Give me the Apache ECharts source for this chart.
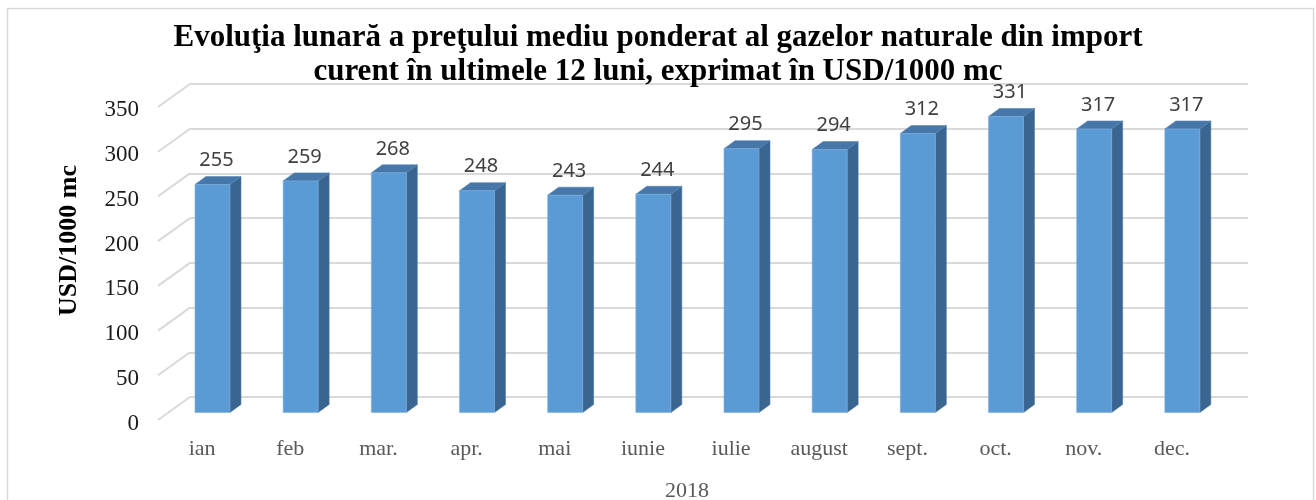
<!DOCTYPE html>
<html>
<head>
    <meta charset="UTF-8">
    <title>Evoluția lunară a prețului mediu ponderat</title>
    <style>
        body, html {
            margin: 0;
            width: 100%;
            height: 100%;
            background: #fff;
        }
        #container {
            width: 1316px;
            height: 500px;
        }
    </style>
</head>
<body>
<div id="container"></div>

<script src="https://cdn.jsdelivr.net/npm/echarts@6/dist/echarts.min.js"></script>
<script>
    // date
    var months = ['ian', 'feb', 'mar.', 'apr.', 'mai', 'iunie', 'iulie', 'august', 'sept.', 'oct.', 'nov.', 'dec.'];
    var prices = [255, 259, 268, 248, 243, 244, 295, 294, 312, 331, 317, 317];
    var yTicks = [0, 50, 100, 150, 200, 250, 300, 350];

    // adancimea 3D (perete lateral)
    var WALL_DX = -32, WALL_DY = 23;
    var BAR_DX = -21.6, BAR_DY = 15.5;   // fata barei fata de peretele din spate
    var BAR_W = 35, DEPTH_X = 11, DEPTH_Y = -8;

    var serif = '"Liberation Serif", "Times New Roman", serif';

    function buildChart() {
        var chart = echarts.init(document.getElementById('container'));

        var option = {
            animation: false,
            title: {
                text: 'Evoluţia lunară a preţului mediu ponderat al gazelor naturale din import\ncurent în ultimele 12 luni, exprimat în USD/1000 mc',
                left: 'center',
                top: 16,
                textStyle: {
                    fontFamily: serif,
                    fontSize: 31,
                    fontWeight: 'bold',
                    color: '#000',
                    lineHeight: 34
                }
            },
            graphic: [{
                type: 'rect',
                shape: {x: 7.5, y: 8.5, width: 1306, height: 500},
                style: {fill: 'none', stroke: '#d9d9d9', lineWidth: 1.5},
                silent: true
            }],
            grid: [
                // peretele din spate
                {left: 190, right: 68, top: 84, bottom: 103, outerBoundsMode: 'none', containLabel: false},
                // marginea din fata (etichete)
                {left: 158, right: 100, top: 110, bottom: 76, outerBoundsMode: 'none', containLabel: false}
            ],
            xAxis: [{
                gridIndex: 0,
                type: 'category',
                data: months,
                show: false
            }, {
                gridIndex: 1,
                type: 'category',
                data: months,
                axisLine: {show: false},
                axisTick: {show: false},
                axisLabel: {
                    margin: 14,
                    fontFamily: serif,
                    fontSize: 22,
                    color: '#595959'
                },
                name: '2018',
                nameLocation: 'middle',
                nameGap: 56,
                nameTextStyle: {
                    fontFamily: serif,
                    fontSize: 22,
                    color: '#595959'
                }
            }],
            yAxis: [{
                gridIndex: 0,
                type: 'value',
                min: 0,
                max: 350,
                interval: 50,
                axisLabel: {show: false},
                axisLine: {show: false},
                axisTick: {show: false},
                splitLine: {lineStyle: {color: '#d9d9d9', width: 2}},
                name: 'USD/1000 mc',
                nameLocation: 'middle',
                nameGap: 108,
                nameTextStyle: {
                    fontFamily: serif,
                    fontSize: 26,
                    fontWeight: 'bold',
                    color: '#000'
                }
            }, {
                gridIndex: 1,
                type: 'value',
                min: 0,
                max: 350,
                interval: 50,
                axisLine: {show: false},
                axisTick: {show: false},
                splitLine: {show: false},
                axisLabel: {
                    margin: 19,
                    fontFamily: serif,
                    fontSize: 23,
                    color: '#1a1a1a'
                }
            }],
            series: [{
                // liniile oblice ale peretelui lateral
                type: 'custom',
                xAxisIndex: 0,
                yAxisIndex: 0,
                silent: true,
                data: yTicks.map(function (v) { return [0, v]; }),
                renderItem: function (params, api) {
                    var y = api.coord([0, api.value(1)])[1];
                    var x = params.coordSys.x;
                    return {
                        type: 'line',
                        shape: {x1: x, y1: y, x2: x + WALL_DX, y2: y + WALL_DY},
                        style: {stroke: '#d9d9d9', lineWidth: 2}
                    };
                }
            }, {
                type: 'custom',
                xAxisIndex: 0,
                yAxisIndex: 0,
                data: prices.map(function (v, i) { return [i, v]; }),
                renderItem: function (params, api) {
                    var top = api.coord([api.value(0), api.value(1)]);
                    var base = api.coord([api.value(0), 0]);
                    var x = top[0] + BAR_DX - BAR_W / 2;
                    var yt = top[1] + BAR_DY;
                    var yb = base[1] + BAR_DY;
                    var xr = x + BAR_W;
                    return {
                        type: 'group',
                        children: [{
                            type: 'polygon',
                            shape: {points: [[xr, yt], [xr + DEPTH_X, yt + DEPTH_Y], [xr + DEPTH_X, yb + DEPTH_Y], [xr, yb]]},
                            style: {fill: '#3a6590', stroke: '#4a77a3', lineWidth: 0.6}
                        }, {
                            type: 'polygon',
                            shape: {points: [[x, yt], [x + DEPTH_X, yt + DEPTH_Y], [xr + DEPTH_X, yt + DEPTH_Y], [xr, yt]]},
                            style: {fill: '#4677a8', stroke: '#5585b5', lineWidth: 0.6}
                        }, {
                            type: 'rect',
                            shape: {x: x, y: yt, width: BAR_W, height: yb - yt},
                            style: {fill: '#5b9bd5', stroke: '#7fb0df', lineWidth: 0.6}
                        }, {
                            type: 'text',
                            style: {
                                x: x + BAR_W / 2 + 4,
                                y: yt - 24,
                                text: String(api.value(1)),
                                align: 'center',
                                verticalAlign: 'middle',
                                fontFamily: '"Noto Sans", sans-serif',
                                fontSize: 20,
                                fill: '#404040'
                            }
                        }]
                    };
                }
            }]
        };

        chart.setOption(option);
    }

    buildChart();
</script>
</body>
</html>
